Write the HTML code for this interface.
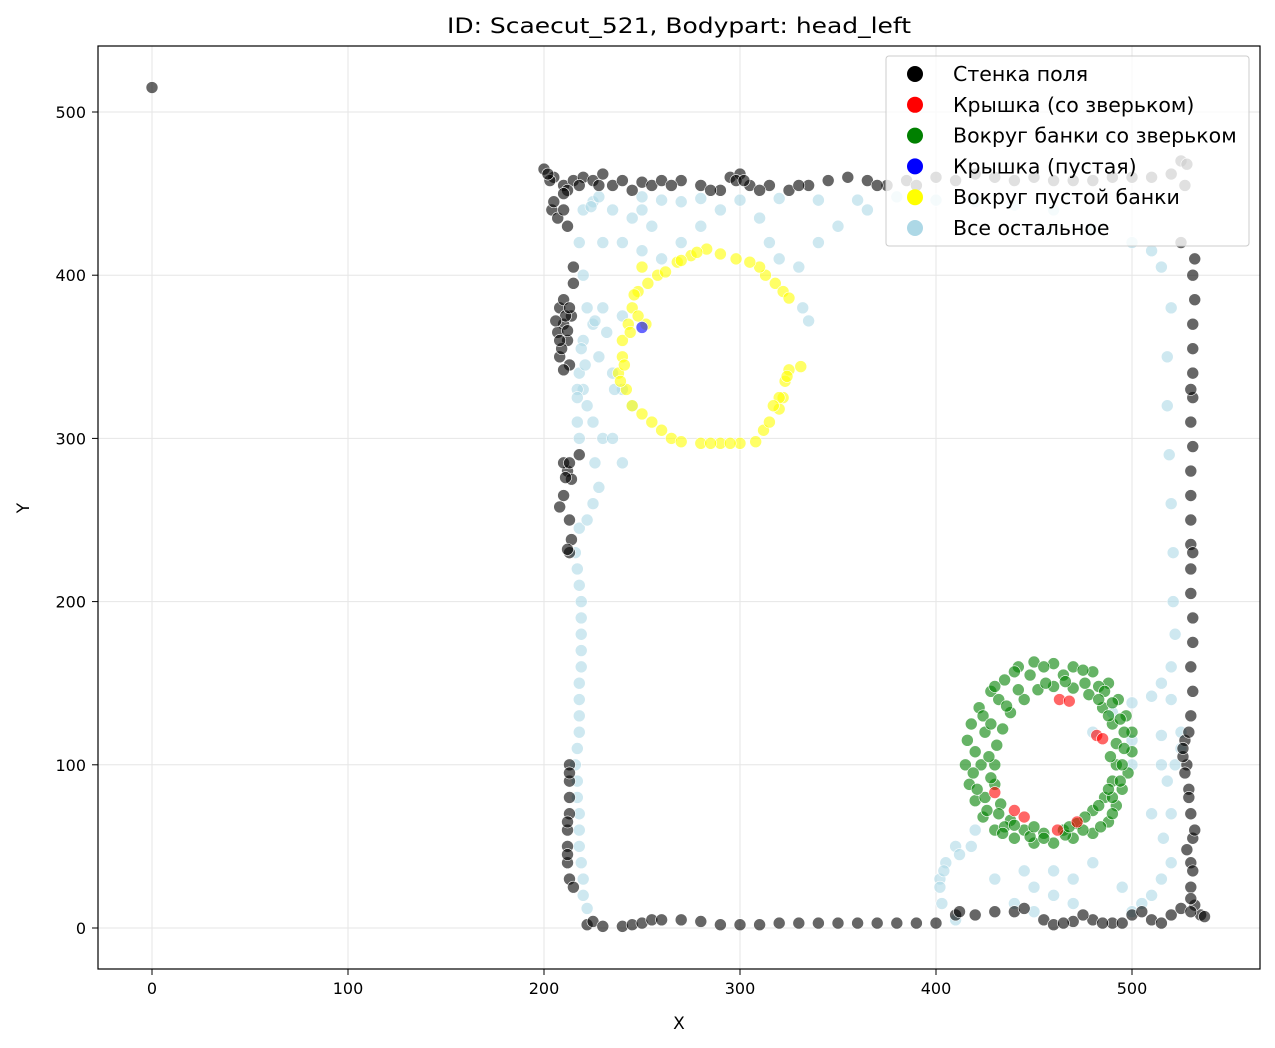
<!DOCTYPE html>
<html><head><meta charset="utf-8">
<style>
body{margin:0;background:#fff;}
svg{display:block;font-family:"DejaVu Sans","Liberation Sans",sans-serif;}
</style></head>
<body>
<svg id="chart" width="1275" height="1048" xmlns="http://www.w3.org/2000/svg">
<text x="679" y="33" text-anchor="middle" font-size="21" textLength="464" lengthAdjust="spacingAndGlyphs">ID: Scaecut_521, Bodypart: head_left</text>
<g id="grid"></g>
<g id="points"></g>
<rect x="98" y="46" width="1162" height="923" fill="none" stroke="#000" stroke-width="1.2"/>
<g id="ticks"></g>
<text x="679" y="1029" text-anchor="middle" font-size="17">X</text>
<text x="29" y="508" text-anchor="middle" font-size="17" transform="rotate(-90 29 508)">Y</text>
<g id="legend">
<rect x="886" y="56" width="363" height="190" rx="3" fill="#fff" fill-opacity="0.8" stroke="#ccc"/>
</g>
</svg>
<script>
const xTicks=[0,100,200,300,400,500];
const yTicks=[0,100,200,300,400,500];
const labels=["Стенка поля","Крышка (со зверьком)","Вокруг банки со зверьком","Крышка (пустая)","Вокруг пустой банки","Все остальное"];
const colors=["#000000","#ff0000","#008000","#0000ff","#ffff00","#add8e6"];
const wall=[[0,515],[222,2],[225,4],[230,1],[240,1],[245,2],[250,3],[255,5],[260,5],[270,5],[280,4],[290,2],[300,2],[310,2],[320,3],[330,3],[340,3],[350,3],[360,3],[370,3],[380,3],[390,3],[400,3],[410,8],[420,8],[430,10],[440,10],[455,5],[460,2],[470,4],[480,5],[490,3],[500,8],[510,5],[520,8],[535,8],[465,3],[475,8],[485,3],[495,3],[505,10],[515,3],[525,12],[532,14],[537,7],[412,10],[445,12],
[213,100],[213,90],[213,80],[213,70],[212,60],[212,50],[212,40],[213,30],[215,25],[213,95],[212,65],[212,45],
[530,10],[530,25],[530,40],[531,55],[530,70],[529,85],[528,100],[527,115],[530,130],[531,145],[530,160],[531,175],[531,190],[530,205],[530,220],[530,235],[530,250],[530,265],[530,280],[531,295],[530,310],[531,325],[531,340],[531,355],[531,370],[532,385],[531,400],[532,410],[525,420],[526,105],[527,95],[529,80],[531,35],[530,18],[528,48],[532,60],[526,110],[529,120],[531,230],[530,330],
[205,460],[210,455],[215,458],[220,460],[225,458],[230,462],[235,455],[240,458],[250,457],[255,455],[260,458],[270,458],[280,455],[290,452],[295,460],[300,462],[305,455],[315,455],[325,452],[335,455],[345,458],[355,460],[365,458],[375,455],[385,458],[400,460],[420,462],[440,458],[460,458],[480,458],[500,460],[510,460],[525,470],[200,465],[203,458],[212,452],[218,455],[228,455],[245,452],[265,455],[285,452],[298,458],[302,458],[310,452],[330,455],[370,455],[390,455],[410,458],[430,460],[450,460],[470,458],[490,460],[520,462],[528,468],[527,455],
[202,462],[204,440],[207,435],[210,450],[212,430],[208,380],[210,370],[212,360],[208,350],[213,345],[214,375],[210,385],[215,405],[215,395],[212,280],[214,275],[210,285],[218,290],[210,265],[213,250],[214,238],[213,230],[208,258],[207,365],[209,355],[211,375],[213,380],[206,372],[210,342],[212,366],[208,360],[210,440],[205,445],[213,285],[211,276],[212,232]];
const lidAnimal=[[430,83],[440,72],[445,68],[462,60],[472,65],[482,118],[485,116],[463,140],[468,139]];
const aroundAnimal=[[415,100],[416,115],[418,125],[422,135],[428,145],[435,152],[442,160],[450,163],[460,162],[470,160],[480,157],[488,150],[493,140],[497,130],[500,120],[500,108],[498,95],[495,85],[492,75],[488,65],[480,58],[470,55],[460,52],[450,52],[440,55],[430,60],[424,68],[420,78],[417,88],
[430,100],[431,112],[434,122],[438,132],[445,140],[452,146],[460,148],[470,147],[478,143],[485,135],[490,125],[492,113],[492,100],[490,90],[486,80],[480,72],[472,64],[465,60],[455,58],[445,60],[438,66],[433,76],[430,88],
[423,100],[425,120],[432,140],[448,155],[465,155],[483,148],[496,120],[495,100],[490,80],[475,60],[455,55],[435,62],[425,80],
[419,95],[420,108],[424,130],[430,148],[440,157],[455,160],[475,158],[486,145],[490,138],[494,128],[496,110],[494,90],[490,70],[484,62],[466,57],[448,56],[434,58],[426,72],[421,85],
[427,105],[428,125],[436,136],[442,146],[456,150],[466,151],[476,150],[483,140],[488,130],[489,105],[488,85],[483,75],[476,68],[468,62],[450,62],[440,63],[432,70],[428,92]];
const lidEmpty=[[250,368]];
const aroundEmpty=[[250,405],[258,400],[248,390],[245,380],[243,370],[240,360],[240,350],[238,340],[242,330],[245,320],[250,315],[255,310],[260,305],[265,300],[270,298],[280,297],[290,297],[300,297],[308,298],[312,305],[315,310],[320,318],[322,325],[323,335],[325,342],[331,344],[313,400],[318,395],[322,390],[325,386],[310,405],[305,408],[298,410],[290,413],[283,416],[275,412],[268,408],[262,402],[252,370],[248,375],[241,345],[239,335],[244,365],[246,388],[253,395],[270,409],[278,414],[320,325],[324,338],[317,320],[295,297],[285,297]];
const other=[[220,20],[222,12],[220,30],[219,40],[218,50],[218,60],[218,70],[217,80],[217,90],[216,100],[217,110],[218,120],[218,130],[218,140],[218,150],[219,160],[219,170],[219,180],[219,190],[219,200],[218,210],[217,220],[216,230],[218,245],[222,250],[225,260],[228,270],[226,285],[230,300],[225,310],[222,320],[220,330],[218,340],[220,360],[225,370],[230,380],[240,375],[235,340],[240,330],[245,320],[235,300],[240,285],[220,400],[218,420],[220,440],[225,445],[235,440],[250,448],[260,446],[270,445],[280,447],[300,446],[320,447],[340,446],[360,446],[380,448],[400,446],[420,445],[440,443],[460,440],[480,428],[500,420],[510,415],[515,405],[520,380],[518,350],[518,320],[519,290],[520,260],[521,230],[521,200],[522,180],[520,160],[515,150],[510,142],[500,138],[490,132],[480,120],[500,115],[515,118],[525,120],[515,100],[500,100],[510,70],[520,40],[515,30],[505,15],[495,25],[480,40],[470,30],[460,20],[450,10],[440,15],[430,30],[420,60],[410,50],[405,40],[402,30],[403,15],[410,5],[230,420],[240,420],[250,415],[260,410],[270,420],[280,430],[290,440],[310,435],[315,420],[320,410],[330,405],[335,372],[332,380],[340,420],[350,430],[365,440],[250,440],[255,430],[245,435],[217,330],[217,310],[218,300],[219,355],[228,350],[232,365],[236,330],[221,345],[217,325],[222,380],[226,372],[224,442],[228,448],[520,140],[525,110],[522,100],[518,90],[520,70],[516,55],[510,20],[500,10],[445,35],[450,25],[460,35],[470,15],[402,25],[404,35],[412,45],[418,50]];
const series=[wall,lidAnimal,aroundAnimal,lidEmpty,aroundEmpty,other];
const order=[5,0,2,4,1,3];
const NS="http://www.w3.org/2000/svg";
const sx=v=>152+v*1.96, sy=v=>928-v*1.632;
function mk(tag,at,parent){const e=document.createElementNS(NS,tag);for(const k in at)e.setAttribute(k,at[k]);parent.appendChild(e);return e;}
const grid=document.getElementById('grid'),ticks=document.getElementById('ticks'),pts=document.getElementById('points'),leg=document.getElementById('legend');
xTicks.forEach(t=>{const x=sx(t);
 const g=mk('line',{x1:x,x2:x,y1:46,y2:969,stroke:'#e6e6e6','stroke-width':1},grid);
 
 
 const l=mk('line',{x1:x,x2:x,y1:969,y2:975,stroke:'#000'},ticks);
 
 
 const tx=mk('text',{x:x,y:994,'text-anchor':'middle','font-size':16},ticks);tx.textContent=t;
 
 
});
yTicks.forEach(t=>{const y=sy(t);
 const g=mk('line',{x1:98,x2:1260,y1:y,y2:y,stroke:'#e6e6e6','stroke-width':1},grid);
 
 
 const l=mk('line',{x1:92,x2:98,y1:y,y2:y,stroke:'#000'},ticks);
 
 
 const tx=mk('text',{x:86,y:y+6,'text-anchor':'end','font-size':16},ticks);tx.textContent=t;
 
 
});
order.forEach(i=>{series[i].forEach(p=>{
 const c=mk('circle',{cx:sx(p[0]),cy:sy(p[1]),r:6,fill:colors[i],'fill-opacity':0.6,stroke:'#fff','stroke-width':0.6},pts);
 
 
});});
labels.forEach((s,i)=>{const y=74+i*30.8;
 const c=mk('circle',{cx:915,cy:y,r:8,fill:colors[i]},leg);
 
 
 const t=mk('text',{x:953,y:y+7,'font-size':20.5},leg);t.textContent=s;
 
 
});
</script>
</body></html>
